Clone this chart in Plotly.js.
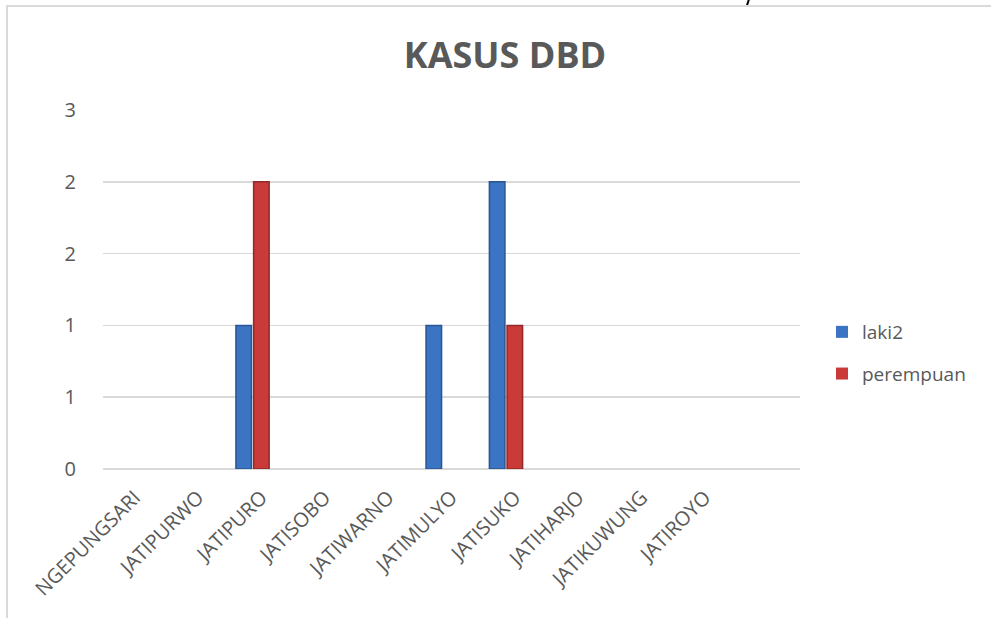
<!DOCTYPE html>
<html>
<head>
<meta charset="utf-8">
<script src="https://cdn.plot.ly/plotly-3.0.1.min.js"></script>
<style>
  html, body { margin:0; padding:0; width:991px; height:618px; overflow:hidden; background:#fff; }
  #frame { position:absolute; left:6px; top:5px; width:1000px; height:700px;
           border-left:2px solid #d9d9d9; border-top:2px solid #d9d9d9; }
  #chart { position:absolute; left:0; top:0; width:983px; height:611px; }
  #frag { position:absolute; left:748px; top:-1px; width:1.6px; height:10px; background:#000;
          transform:rotate(18deg); transform-origin:top left; }
</style>
</head>
<body>
<div id="frag"></div>
<div id="frame"><div id="chart"></div></div>
<script>
const categories = ["NGEPUNGSARI","JATIPURWO","JATIPURO","JATISOBO","JATIWARNO","JATIMULYO","JATISUKO","JATIHARJO","JATIKUWUNG","JATIROYO"];
const laki2 = [0,0,1,0,0,1,2,0,0,0];
const perempuan = [0,0,2,0,0,0,1,0,0,0];
const yTickVals = [0,0.5,1,1.5,2,2.5];
const yTickText = ["0","1","1","2","2","3"];

const FONT = '"Open Sans", sans-serif';
const GREY = '#595959';
const edge = vals => vals.map(v => v > 0 ? 1.5 : 0);

const traces = [
  { type:'bar', name:'laki2', x:categories, y:laki2, legendgroup:'a',
    width:0.245, offset:-0.402,
    marker:{ color:'#3b74c3', line:{ color:'#285594', width:edge(laki2) } } },
  { type:'bar', name:'perempuan', x:categories, y:perempuan, legendgroup:'b',
    width:0.245, offset:-0.123,
    marker:{ color:'#c93a38', line:{ color:'#902a28', width:edge(perempuan) } } }
];

const layout = {
  width:983, height:611,
  margin:{ l:95, r:191, t:103, b:149 },
  paper_bgcolor:'#fff', plot_bgcolor:'#fff',
  font:{ family:FONT, color:GREY, size:19 },
  title:{ text:'<b>KASUS DBD</b>', font:{ family:FONT, size:36, color:GREY },
          x:(505-8)/983, xanchor:'center', xref:'container', y:1-48/611, yanchor:'middle', yref:'container' },
  barmode:'group',
  xaxis:{ type:'category', range:[-0.5,10.5], tickangle:-45, showgrid:false,
          showline:false, zeroline:false, ticks:'', ticklabelstandoff:12,
          tickfont:{ size:20, color:GREY, family:FONT } },
  yaxis:{ range:[0,2.5], tickvals:yTickVals, ticktext:yTickText, showgrid:true,
          gridcolor:'#d9d9d9', gridwidth:1.5, zeroline:true, zerolinecolor:'#d9d9d9', zerolinewidth:1.5,
          showline:false, ticks:'', ticklabelstandoff:26, tickfont:{ size:20, color:GREY, family:FONT } },
  legend:{ x:(814-95)/697, xanchor:'left', y:(462-346)/359, yanchor:'middle',
           traceorder:'grouped', tracegroupgap:14, font:{ size:19, color:GREY, family:FONT },
           itemwidth:30, bgcolor:'rgba(0,0,0,0)' },
  showlegend:true
};

Plotly.newPlot('chart', traces, layout, { staticPlot:true, displayModeBar:false });
</script>
</body>
</html>
